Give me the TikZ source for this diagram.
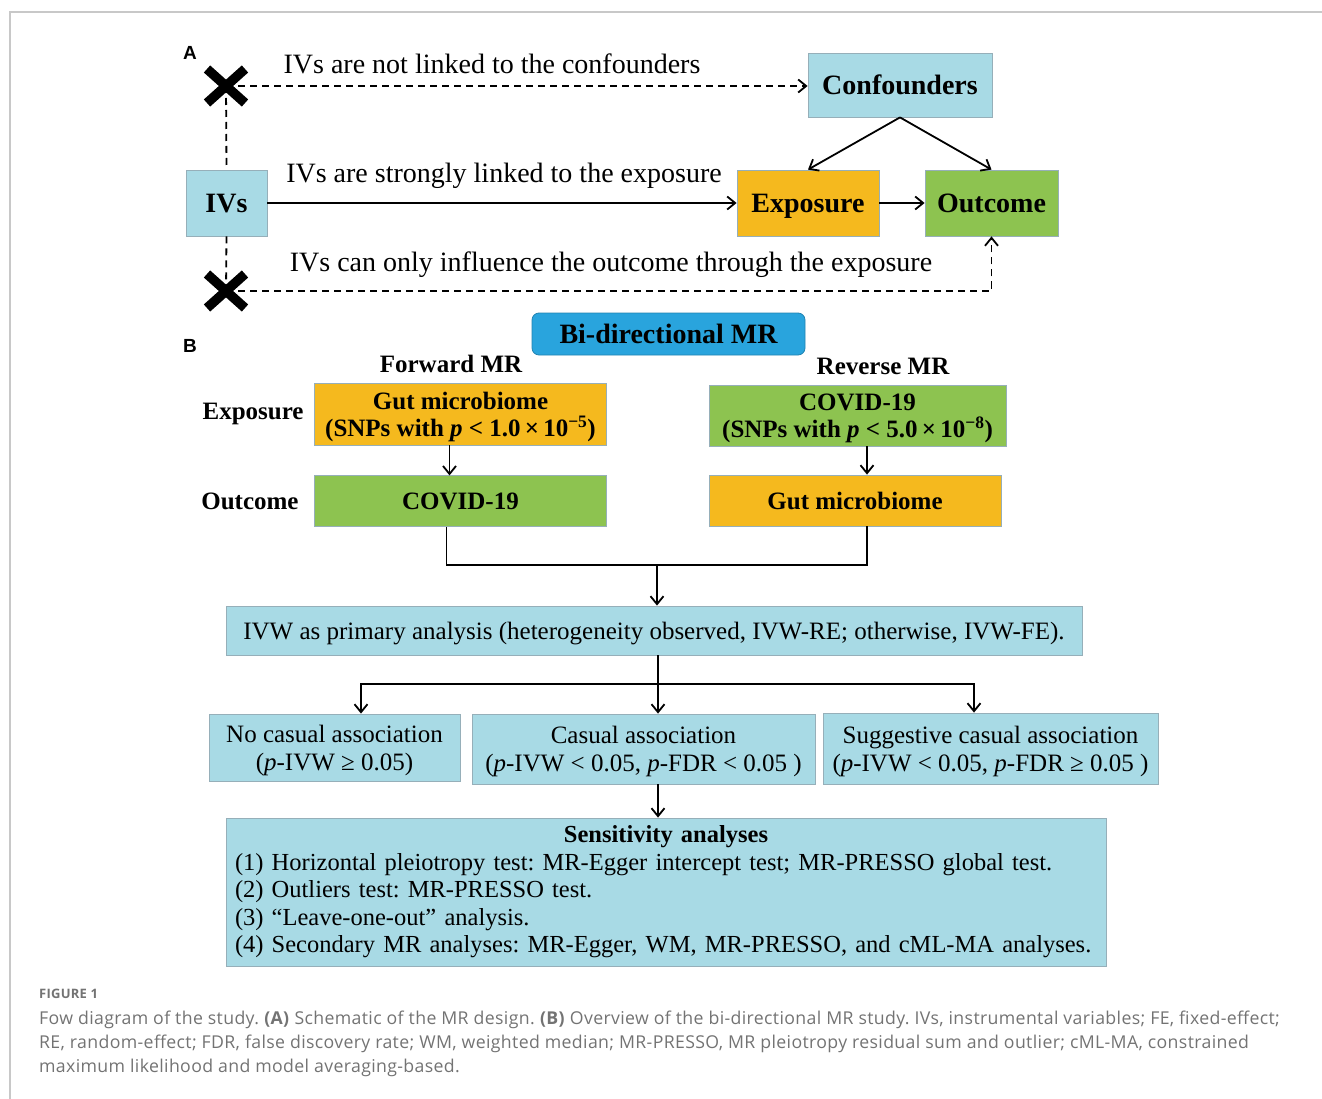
\documentclass[tikz,border=0pt]{standalone}
\usepackage{fontspec}
\setmainfont{Liberation Serif}
\setsansfont{Liberation Sans}
\newfontfamily\captionfont[LetterSpace=2]{Open Sans}
\usetikzlibrary{positioning,arrows.meta}
\frenchspacing

\definecolor{lightcyan}{RGB}{168,218,229}
\definecolor{amber}{RGB}{245,185,30}
\definecolor{leaf}{RGB}{141,195,80}
\definecolor{skyblue}{RGB}{41,164,221}
\definecolor{boxedge}{RGB}{150,175,185}
\definecolor{framegray}{RGB}{200,200,200}
\definecolor{captiongray}{RGB}{115,115,115}

\begin{document}
\begin{tikzpicture}[x=1pt, y=-1pt]
% STYLES
\tikzset{%
    cell/.style={%
draw=boxedge,
line width=0.8pt,
inner sep=0pt,
text depth=0pt,
align=center
                 },
    big/.style={font=\fontsize{28}{32}\selectfont},
    bigbold/.style={font=\fontsize{28}{32}\selectfont\bfseries},
    midbold/.style={font=\fontsize{25}{27}\selectfont\bfseries},
    mid/.style={font=\fontsize{25}{27.5}\selectfont},
    res/.style={font=\fontsize{25}{28}\selectfont},
    tag/.style={font=\sffamily\bfseries\fontsize{19}{21}\selectfont},
    link/.style={line width=1.8pt},
    flow/.style={line width=1.8pt, -{Straight Barb[length=8pt,width=13pt,line width=1.8pt]}},
    dlink/.style={link, dash pattern=on 7pt off 5pt},
    dflow/.style={flow, dash pattern=on 7pt off 5pt}
             }

\useasboundingbox (0,0) rectangle (1322,1099);
\draw[framegray, line width=1.2pt] (1322,12) -- (10,12) -- (10,1099);

% Panel A: the three assumptions
\node[tag] (tagA) at (190,53) {A};
\node[cell, fill=lightcyan, bigbold, minimum width=184, minimum height=64] (conf) at (900,85) {Confounders};
\node[cell, fill=lightcyan, bigbold, minimum width=81, minimum height=66] (ivs) at (226.5,203) {IVs};
\node[cell, fill=amber, bigbold, minimum width=142, minimum height=66] (expo) at (808,203) {Exposure};
\node[cell, fill=leaf, bigbold, minimum width=133, minimum height=66] (outc) at (991.5,203) {Outcome};
\node[big] (notconf) at (492,64) {IVs are not linked to the confounders};
\node[big] (strong) at (504,176) {IVs are strongly linked to the exposure};
\node[big] (onlyexp) at (611,265) {IVs can only influence the outcome through the exposure};
\coordinate (xtop) at (226,86);
\coordinate (xbot) at (226,291);
% Draw the links
\draw[dflow] (xtop) -- (xtop -| conf.west);
\draw[dlink] (xtop) -- (ivs.north);
\draw[dlink] (ivs.south) -- (xbot);
\draw[dflow] (xbot) -| (outc.south);
\path[flow]
(ivs) edge (expo)
(expo) edge (outc)
(conf.south) edge (expo.north)
(conf.south) edge (outc.north);
\foreach \c in {xtop,xbot}
  \draw[line width=9.5pt] ([shift={(-19,-17)}]\c) -- ([shift={(19,17)}]\c)
                          ([shift={(-19,17)}]\c) -- ([shift={(19,-17)}]\c);

% Panel B: bi-directional design
\node[tag] (tagB) at (190,346) {B};
\node[cell, fill=skyblue, draw=skyblue!80!black, rounded corners=7pt, bigbold, minimum width=273, minimum height=42] (bidir) at (668.5,334) {Bi-directional MR};
\node[midbold] (fwd) at (451,364) {Forward MR};
\node[midbold] (rev) at (883,366) {Reverse MR};
\node[cell, fill=amber, midbold, minimum width=292, minimum height=62] (gutA) at (460.5,414) {Gut microbiome\\(SNPs with \textit{p} < 1.0\,×\,10\textsuperscript{−5})};
\node[cell, fill=leaf, midbold, minimum width=297, minimum height=61] (covA) at (857.5,415.5) {COVID-19\\(SNPs with \textit{p} < 5.0\,×\,10\textsuperscript{−8})};
\node[cell, fill=leaf, midbold, minimum width=292, minimum height=51, below=30pt of gutA] (covB) {COVID-19};
\node[cell, fill=amber, midbold, minimum width=292, minimum height=51] (gutB) at (855,500.5) {Gut microbiome};
\node[midbold, left=7pt of gutA] (rowexp) {Exposure};
\node[midbold, left=12pt of covB] (rowout) {Outcome};
\node[cell, fill=lightcyan, mid, minimum width=856, minimum height=49] (ivw) at (654,630.5) {IVW as primary analysis (heterogeneity observed, IVW-RE; otherwise, IVW-FE).};
\node[cell, fill=lightcyan, res, minimum width=251, minimum height=67] (nocaus) at (334.5,747.5) {No casual association\\(\textit{p}-IVW ≥ 0.05)};
\node[cell, fill=lightcyan, res, minimum width=343, minimum height=70] (caus) at (643.5,749) {Casual association\\(\textit{p}-IVW < 0.05, \textit{p}-FDR < 0.05 )};
\node[cell, fill=lightcyan, res, minimum width=335, minimum height=71] (sugg) at (990.5,748.5) {Suggestive casual association\\(\textit{p}-IVW < 0.05, \textit{p}-FDR ≥ 0.05 )};
\node[cell, text depth=, fill=lightcyan, font=\fontsize{24.5}{27.5}\selectfont, minimum width=880, minimum height=148, text width=862, align=left] (sens) at (666,892) {{\centering\bfseries Sensitivity analyses\par}\hyphenpenalty=10000 (1) Horizontal pleiotropy test: MR-Egger intercept test; MR-PRESSO global test.\\(2) Outliers test: MR-PRESSO test.\\(3) “Leave-one-out” analysis.\\(4) Secondary MR analyses: MR-Egger, WM, MR-PRESSO, and cML-MA analyses.};
\coordinate (merge) at (657,565);
\coordinate (split) at (658,684);
% Draw the flow
\draw[flow] ([xshift=-11pt]gutA.south) -- ([xshift=-11pt]gutA.south |- covB.north);
\draw[flow] ([xshift=9.5pt]covA.south) -- ([xshift=9.5pt]covA.south |- gutB.north);
\draw[link] ([xshift=-14pt]covB.south) |- (merge) -| ([xshift=12pt]gutB.south);
\draw[flow] (merge) -- (merge |- ivw.north);
\draw[link] (ivw.south -| split) -- (split);
\draw[flow] (split) -| ([xshift=26.5pt]nocaus.north);
\draw[flow] (split) -| ([xshift=-16.5pt]sugg.north);
\draw[flow] (split) -- (split |- caus.north);
\draw[flow] (caus.south -| split) -- (split |- sens.north);

% Caption
\node[anchor=north west, inner sep=0pt, text=captiongray, font=\captionfont\bfseries\fontsize{13}{15}\selectfont] (figlab) at (39,989) {FIGURE 1};
\node[anchor=north west, inner sep=0pt, text=captiongray, align=left, font=\captionfont\fontsize{17.7}{24}\selectfont] (caption) at (39,1011) {Fow diagram of the study. \textbf{(A)} Schematic of the MR design. \textbf{(B)} Overview of the bi-directional MR study. IVs, instrumental variables; FE, fixed-effect;\\RE, random-effect; FDR, false discovery rate; WM, weighted median; MR-PRESSO, MR pleiotropy residual sum and outlier; cML-MA, constrained\\maximum likelihood and model averaging-based.};
\end{tikzpicture}
\end{document}
